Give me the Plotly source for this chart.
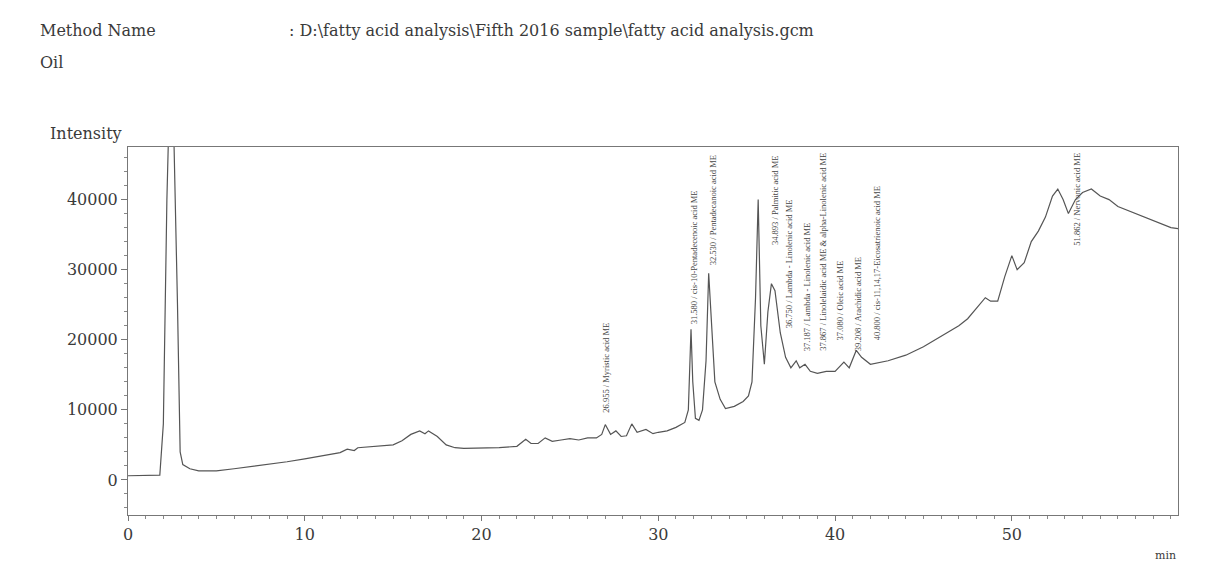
import plotly.graph_objects as go

# Chromatogram trace (retention time in min, intensity)
rt = [0.0, 1.0, 1.8, 2.0, 2.2, 2.4, 2.5, 2.8, 2.95, 3.1, 3.5, 4.0, 5.0, 6.0, 7.0, 8.0, 9.0, 10.0, 11.0,
      12.0, 12.4, 12.8, 13.0, 13.5, 14.0, 15.0, 15.5, 16.0, 16.5, 16.8, 17.0, 17.5, 18.0, 18.5, 19.0, 20.0,
      21.0, 22.0, 22.5, 22.8, 23.2, 23.6, 24.0, 24.5, 25.0, 25.5, 26.0, 26.5, 26.8, 27.0, 27.3, 27.6,
      27.9, 28.2, 28.5, 28.8, 29.3, 29.7, 30.0, 30.5, 31.0, 31.5, 31.7, 31.85, 31.95, 32.1, 32.3, 32.5,
      32.7, 32.85, 33.0, 33.2, 33.5, 33.8, 34.3, 34.8, 35.1, 35.3, 35.5, 35.65, 35.8, 36.0, 36.2, 36.4,
      36.6, 36.9, 37.2, 37.5, 37.8, 38.0, 38.3, 38.6, 39.0, 39.5, 40.0, 40.5, 40.8, 41.2, 41.5, 42.0,
      43.0, 44.0, 45.0, 46.0, 47.0, 47.5, 48.0, 48.5, 48.8, 49.2, 49.6, 50.0, 50.3, 50.7, 51.1, 51.5,
      51.9, 52.3, 52.6, 52.9, 53.2, 53.6, 54.0, 54.5, 55.0, 55.5, 56.0, 56.5, 57.0, 57.5, 58.0, 58.5,
      59.0, 59.5]
intensity = [600, 600, 700, 8000, 40000, 60000, 60000, 25000, 4000, 2200, 1600, 1300, 1300, 1600, 1900, 2200,
             2600, 3000, 3400, 3900, 4400, 4200, 4600, 4700, 4900, 5000, 5600, 6500, 7000, 6600, 7000, 6200,
             5000, 4600, 4500, 4500, 4600, 4800, 5800, 5200, 5200, 6000, 5500, 5700, 5900, 5700, 6000, 6000,
             6500, 7900, 6500, 7000, 6200, 6300, 8000, 6800, 7200, 6600, 6800, 7000, 7500, 8200, 10000, 21500,
             14000, 8800, 8500, 10000, 17000, 29500, 22000, 14000, 11500, 10200, 10500, 11200, 12000, 14000,
             26000, 40000, 22000, 16500, 24000, 28000, 27000, 21000, 17500, 16000, 17000, 16000, 16500,
             15500, 15200, 15500, 15500, 16800, 16000, 18500, 17500, 16500, 17000, 17800, 19000, 20500,
             22000, 23000, 24500, 26000, 25500, 25500, 29000, 32000, 30000, 31000, 34000, 35500, 37500,
             40500, 41500, 40000, 38000, 40000, 41000, 41500, 40500, 40000, 39000, 38500, 38000, 37500,
             37000, 36500, 36000, 35800, 35600, 35600]

# Peak labels
peak_rt = [27.04, 32.07, 33.08, 36.6, 37.44, 38.4, 39.3, 40.27, 41.3, 42.36, 53.7]
peak_base = [9300, 21900, 30300, 33300, 21400, 18100, 18100, 19600, 18100, 19600, 33100]
peak_names = [
    "26.955 / Myristic acid ME",
    "31.580 / cis-10-Pentadecenoic acid ME",
    "32.530 / Pentadecanoic acid ME",
    "34.893 / Palmitic acid ME",
    "36.750 / Lambda - Linolenic acid ME",
    "37.187 / Lambda - Linolenic acid ME",
    "37.867 / Linolelaidic acid ME & alpha-Linolenic acid ME",
    "37.080 / Oleic acid ME",
    "39.208 / Arachidic acid ME",
    "40.800 / cis-11,14,17-Eicosatrienoic acid ME",
    "51.862 / Nervonic acid ME",
]

y_ticks = [0, 10000, 20000, 30000, 40000]
y_ticktext = ["0", "10000", "20000", "30000", "40000"]
x_ticks = [0, 10, 20, 30, 40, 50]

FONT = "DejaVu Serif"
INK = "#3a3a3a"

fig = go.Figure()
fig.add_trace(go.Scatter(x=rt, y=intensity, mode="lines",
                         line=dict(color="#555555", width=1.2), hoverinfo="skip",
                         showlegend=False))

for x, y, name in zip(peak_rt, peak_base, peak_names):
    fig.add_annotation(x=x, y=y, text=name, textangle=-90, showarrow=False,
                       xanchor="center", yanchor="bottom",
                       font=dict(family="Liberation Serif", size=8.5, color="#444444"))

fig.add_annotation(xref="paper", yref="paper", x=-0.0762, y=1.0, yshift=14, text="Intensity",
                   showarrow=False, xanchor="left", yanchor="middle",
                   font=dict(family=FONT, size=16, color=INK))
fig.add_annotation(xref="paper", yref="paper", x=1.0, y=0, yshift=-40, text="min",
                   showarrow=False, xanchor="right", yanchor="middle",
                   font=dict(family=FONT, size=11, color=INK))
fig.add_annotation(xref="paper", yref="paper", x=-0.0857, y=1.0, yshift=117, text="Method Name",
                   showarrow=False, xanchor="left", yanchor="middle",
                   font=dict(family=FONT, size=16, color=INK))
fig.add_annotation(xref="paper", yref="paper", x=0.151, y=1.0, yshift=117,
                   text=": D:\\fatty acid analysis\\Fifth 2016 sample\\fatty acid analysis.gcm",
                   showarrow=False, xanchor="left", yanchor="middle",
                   font=dict(family=FONT, size=16, color=INK))
fig.add_annotation(xref="paper", yref="paper", x=-0.0857, y=1.0, yshift=85, text="Oil",
                   showarrow=False, xanchor="left", yanchor="middle",
                   font=dict(family=FONT, size=16, color=INK))

fig.update_layout(
    width=1199, height=554,
    margin=dict(l=120, r=29, t=139, b=47),
    paper_bgcolor="white", plot_bgcolor="white",
    font=dict(family=FONT, color=INK),
)
fig.update_xaxes(range=[0, 59.4], tickvals=x_ticks, showgrid=False, zeroline=False,
                 showline=True, linecolor="#777777", mirror=True, ticks="outside", ticklen=5,
                 tickcolor="#777777", minor=dict(dtick=1, ticks="outside", ticklen=3, tickcolor="#888888"),
                 tickfont=dict(family=FONT, size=16, color=INK))
fig.update_yaxes(range=[-5000, 47500], tickvals=y_ticks, ticktext=y_ticktext, showgrid=False,
                 zeroline=False, showline=True, linecolor="#777777", mirror=True, ticks="outside",
                 ticklen=6, tickcolor="#777777",
                 minor=dict(dtick=2000, ticks="outside", ticklen=3, tickcolor="#888888"),
                 tickfont=dict(family=FONT, size=16, color=INK))

fig.write_html("out.html")
